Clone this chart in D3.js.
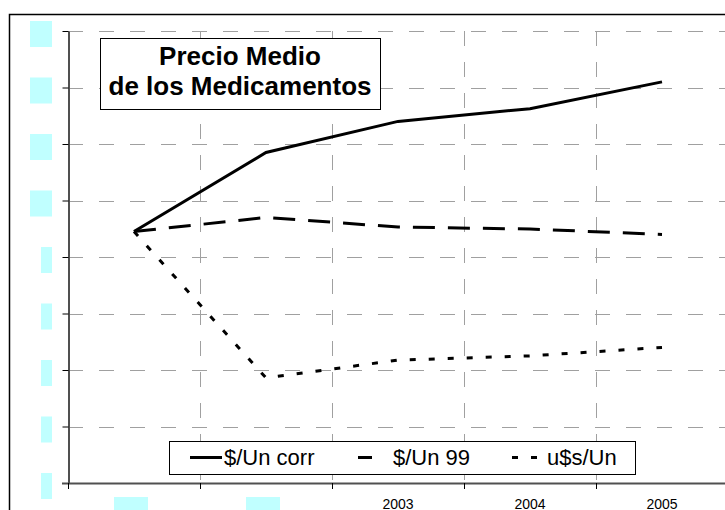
<!DOCTYPE html>
<html>
<head>
<meta charset="utf-8">
<script src="https://cdn.jsdelivr.net/npm/d3@7"></script>
<style>
  html, body { margin: 0; padding: 0; background: #fff; overflow: hidden; }
  svg { display: block; }
  text { font-family: "Liberation Sans", Arial, sans-serif; }
</style>
</head>
<body>
<svg id="chart" width="725" height="510"></svg>
<script>
// Years on the category axis
const years = ["2001", "2002", "2003", "2004", "2005"];
// Years whose labels are masked
const maskedYears = ["2001", "2002"];
// Series values
const corr = [8.9, 11.7, 12.8, 13.25, 14.2];   // $/Un corr
const un99 = [8.9, 9.4, 9.06, 8.99, 8.8];      // $/Un 99
const usd  = [8.9, 3.72, 4.35, 4.5, 4.8];      // u$s/Un
// Value axis ticks
const yTicks = [0, 2, 4, 6, 8, 10, 12, 14, 16];
const seriesNames = ["$/Un corr", "$/Un 99", "u$s/Un"];

const svg = d3.select("#chart");
const plotL = 68, plotR = 728, plotT = 31, plotB = 483;

const x = d3.scaleBand().domain(years).range([plotL, plotR]);
const y = d3.scaleLinear().domain([0, 16]).range([plotB, plotT]);
const cx = d => x(d) + x.bandwidth() / 2;

// Outer chart frame
svg.append("rect")
  .attr("x", 9.5).attr("y", 14.5).attr("width", 760).attr("height", 520)
  .attr("fill", "#fff").attr("stroke", "#000").attr("stroke-width", 1.5);

// Horizontal gridlines
const grid = svg.append("g").attr("stroke", "#a0a0a0").attr("stroke-width", 1)
  .attr("stroke-dasharray", "15,16").attr("fill", "none");
grid.selectAll("line.h").data(yTicks.filter(v => v > 0)).join("line")
  .attr("class", "h")
  .attr("x1", plotL).attr("x2", plotR)
  .attr("y1", d => Math.round(y(d)) + 0.5).attr("y2", d => Math.round(y(d)) + 0.5);

// Vertical gridlines at category boundaries
const bounds = years.slice(1).map(d => x(d)).concat([plotR]);
grid.selectAll("line.v").data(bounds).join("line")
  .attr("class", "v")
  .attr("y1", plotT).attr("y2", plotB)
  .attr("x1", d => Math.round(d) + 0.5).attr("x2", d => Math.round(d) + 0.5);

// Value axis
const yAxis = svg.append("g")
  .attr("transform", `translate(${plotL + 0.5},0)`)
  .call(d3.axisLeft(y).tickValues(yTicks).tickFormat("").tickSize(6).tickSizeOuter(0));
yAxis.select(".domain").attr("stroke", "#505050").attr("stroke-width", 2);
yAxis.selectAll(".tick line").attr("stroke", "#000").attr("stroke-width", 1);

// Category axis
const xAxisG = svg.append("g");
xAxisG.append("line")
  .attr("x1", plotL - 6).attr("x2", plotR)
  .attr("y1", plotB + 0.5).attr("y2", plotB + 0.5)
  .attr("stroke", "#505050").attr("stroke-width", 2);
xAxisG.selectAll("line.t").data([plotL].concat(bounds)).join("line")
  .attr("class", "t")
  .attr("x1", d => Math.round(d) + 0.5).attr("x2", d => Math.round(d) + 0.5)
  .attr("y1", plotB).attr("y2", plotB + 6)
  .attr("stroke", "#000").attr("stroke-width", 1);

// Category labels
svg.selectAll("text.xl").data(years.filter(d => !maskedYears.includes(d))).join("text")
  .attr("class", "xl")
  .attr("x", d => cx(d)).attr("y", 508.5)
  .attr("text-anchor", "middle")
  .attr("font-size", "14px").attr("fill", "#000")
  .text(d => d);

// Masked labels
const mask = "#c0ffff";
svg.selectAll("rect.ym").data(yTicks).join("rect")
  .attr("class", "ym")
  .attr("x", d => 52 - String(d).length * 11).attr("width", d => String(d).length * 11)
  .attr("y", d => y(d) - 10).attr("height", 26)
  .attr("fill", mask);
svg.selectAll("rect.xm").data(maskedYears).join("rect")
  .attr("class", "xm")
  .attr("x", d => cx(d) - 20).attr("width", 34)
  .attr("y", 497).attr("height", 20)
  .attr("fill", mask);

// Series lines
const styles = [
  { values: corr, dash: null },
  { values: un99, dash: "22,13" },
  { values: usd, dash: "6,13" }
];
const line = d3.line().x((d, i) => cx(years[i])).y(d => y(d));
svg.selectAll("path.series").data(styles).join("path")
  .attr("class", "series")
  .attr("d", d => line(d.values))
  .attr("fill", "none").attr("stroke", "#000").attr("stroke-width", 3)
  .attr("stroke-linejoin", "miter")
  .attr("stroke-dasharray", d => d.dash);

// Title box
svg.append("rect")
  .attr("x", 100.5).attr("y", 38.5).attr("width", 280).attr("height", 71)
  .attr("fill", "#fff").attr("stroke", "#000").attr("stroke-width", 1);
const title = svg.append("text")
  .attr("text-anchor", "middle").attr("font-size", "26px").attr("font-weight", "bold");
title.append("tspan").attr("x", 240).attr("y", 65).text("Precio Medio");
title.append("tspan").attr("x", 240).attr("y", 95).text("de los Medicamentos");

// Legend
svg.append("rect")
  .attr("x", 169.5).attr("y", 441.5).attr("width", 466).attr("height", 33)
  .attr("fill", "#fff").attr("stroke", "#000").attr("stroke-width", 1);
const legendItems = [
  { name: seriesNames[0], x1: 190, x2: 222, dash: null },
  { name: seriesNames[1], x1: 358, x2: 391, dash: "14,40" },
  { name: seriesNames[2], x1: 512, x2: 545, dash: "6,13" }
];
const lg = svg.selectAll("g.lg").data(legendItems).join("g").attr("class", "lg");
lg.append("line")
  .attr("x1", d => d.x1).attr("x2", d => d.x2)
  .attr("y1", 457.5).attr("y2", 457.5)
  .attr("stroke", "#000").attr("stroke-width", 3)
  .attr("stroke-dasharray", d => d.dash);
lg.append("text")
  .attr("x", d => d.x2 + 2).attr("y", 465)
  .attr("font-size", "22px").attr("fill", "#000")
  .text(d => d.name);
</script>
</body>
</html>
